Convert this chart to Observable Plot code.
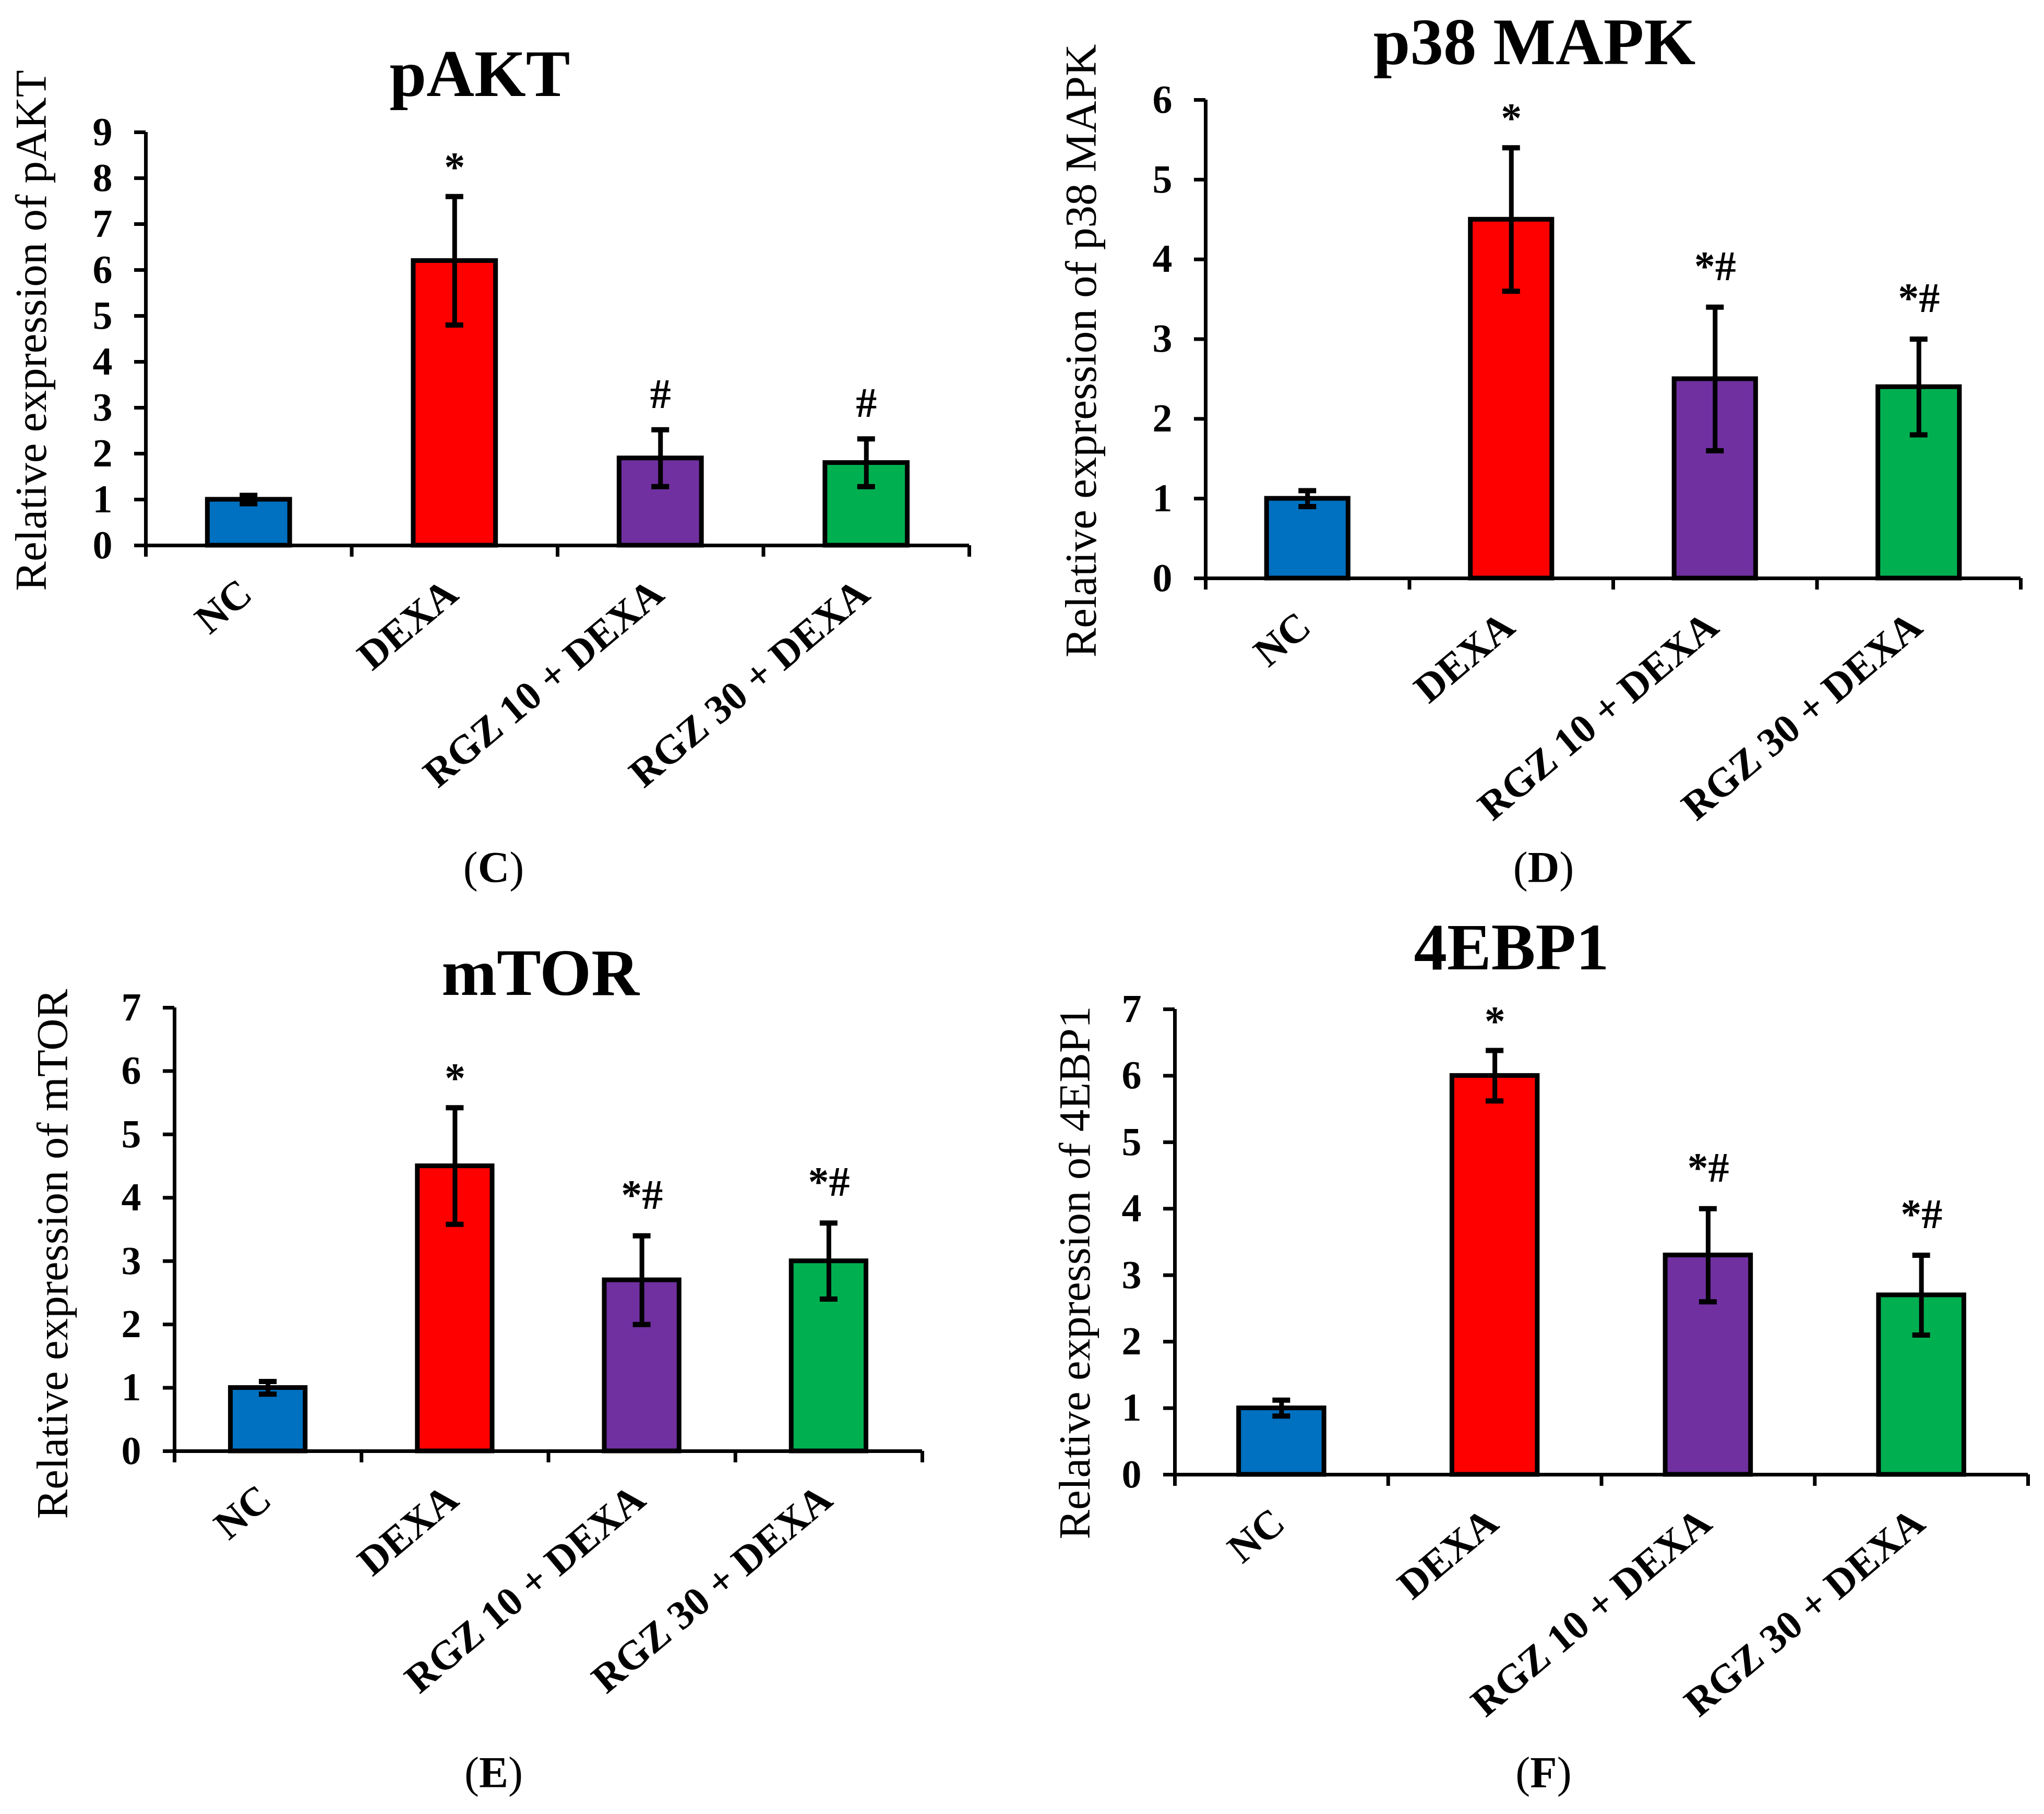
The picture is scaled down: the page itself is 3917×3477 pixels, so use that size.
<!DOCTYPE html>
<html><head><meta charset="utf-8">
<script src="https://cdn.jsdelivr.net/npm/d3@7"></script>
<script src="https://cdn.jsdelivr.net/npm/@observablehq/plot@0.6"></script>
<style>
html,body{margin:0;padding:0;background:#fff;}
#page{position:relative;width:3917px;height:3477px;background:#fff;overflow:hidden;font-family:"Liberation Serif","Times New Roman",serif;}
.panel{position:absolute;}
.panel svg{overflow:visible;display:block;}
.cap{position:absolute;font-size:84px;line-height:84px;white-space:nowrap;transform:translateX(-50%);color:#000;font-family:"Liberation Serif",serif;}
</style></head><body><div id="page"></div>
<script>
// ---- data ----
const categories = ["NC", "DEXA", "RGZ 10 + DEXA", "RGZ 30 + DEXA"];
const palette = ["#0070C0", "#FF0000", "#7030A0", "#00B050"];

const pAKTValues = [1.0, 6.2, 1.9, 1.8];
const pAKTErrors = [0.09, 1.4, 0.62, 0.52];
const pAKTSig = ["", "*", "#", "#"];
const pAKTTicks = [0, 1, 2, 3, 4, 5, 6, 7, 8, 9];

const p38Values = [1.0, 4.5, 2.5, 2.4];
const p38Errors = [0.1, 0.9, 0.9, 0.6];
const p38Sig = ["", "*", "*#", "*#"];
const p38Ticks = [0, 1, 2, 3, 4, 5, 6];

const mTORValues = [1.0, 4.5, 2.7, 3.0];
const mTORErrors = [0.1, 0.92, 0.7, 0.6];
const mTORSig = ["", "*", "*#", "*#"];
const mTORTicks = [0, 1, 2, 3, 4, 5, 6, 7];

const ebpValues = [1.0, 6.0, 3.3, 2.7];
const ebpErrors = [0.12, 0.38, 0.7, 0.6];
const ebpSig = ["", "*", "*#", "*#"];
const ebpTicks = [0, 1, 2, 3, 4, 5, 6, 7];

// ---- layout (pixels) ----
const panels = [
  {title: "pAKT", yLabel: "Relative expression of pAKT", letter: "C",
   values: pAKTValues, errors: pAKTErrors, sig: pAKTSig, ticks: pAKTTicks,
   box: {left: 0, top: 0, width: 1958, height: 1738},
   frame: {x1: 279, x2: 1857, y1: 253, y2: 1045},
   titleAt: [919, 183], yLabelAt: [60, 633], capAt: [946, 1621]},
  {title: "p38 MAPK", yLabel: "Relative expression of p38 MAPK", letter: "D",
   values: p38Values, errors: p38Errors, sig: p38Sig, ticks: p38Ticks,
   box: {left: 1958, top: 0, width: 1959, height: 1738},
   frame: {x1: 2310, x2: 3872, y1: 191, y2: 1108},
   titleAt: [2940, 122], yLabelAt: [2072, 672], capAt: [2958, 1621]},
  {title: "mTOR", yLabel: "Relative expression of mTOR", letter: "E",
   values: mTORValues, errors: mTORErrors, sig: mTORSig, ticks: mTORTicks,
   box: {left: 0, top: 1738, width: 1958, height: 1739},
   frame: {x1: 334, x2: 1767, y1: 1931, y2: 2781},
   titleAt: [1035, 1906], yLabelAt: [101, 2403], capAt: [946, 3356]},
  {title: "4EBP1", yLabel: "Relative expression of 4EBP1", letter: "F",
   values: ebpValues, errors: ebpErrors, sig: ebpSig, ticks: ebpTicks,
   box: {left: 1958, top: 1738, width: 1959, height: 1739},
   frame: {x1: 2251, x2: 3886, y1: 1934, y2: 2826},
   titleAt: [2896, 1857], yLabelAt: [2060, 2439], capAt: [2958, 3356]}
];

// vertical gap between the error-bar cap and each kind of significance label
const sigGap = {"*": -30, "#": -42, "*#": -52};

const page = document.getElementById("page");
const serif = "'Liberation Serif', 'Times New Roman', serif";

for (const p of panels) {
  const data = categories.map((g, i) => ({group: g, value: p.values[i], err: p.errors[i], sig: p.sig[i]}));
  const yMax = p.ticks[p.ticks.length - 1];
  const mL = p.frame.x1 - p.box.left;
  const mR = p.box.left + p.box.width - p.frame.x2;
  const mT = p.frame.y1 - p.box.top;
  const mB = p.box.top + p.box.height - p.frame.y2;
  const plotW = p.frame.x2 - p.frame.x1;
  const plotH = p.frame.y2 - p.frame.y1;
  const step = plotW / categories.length;
  const bandW = step * 0.4;
  const capW = 34;
  const tickLen = 22;
  const tickUnits = tickLen * yMax / plotH;
  const lineW = 7;

  const sigMarks = Object.keys(sigGap).map(kind =>
    Plot.text(data.filter(d => d.sig === kind), {x: "group", y: d => d.value + d.err, text: "sig",
      dy: sigGap[kind], lineAnchor: "bottom", fontSize: 80, fontWeight: "bold", fill: "#000"}));

  const chart = Plot.plot({
    width: p.box.width, height: p.box.height,
    marginLeft: mL, marginRight: mR, marginTop: mT, marginBottom: mB,
    style: {fontFamily: serif, background: "transparent", overflow: "visible", color: "#000"},
    x: {domain: categories, paddingInner: 0.6, paddingOuter: 0.3, round: false, axis: null},
    y: {domain: [0, yMax], axis: null},
    color: {domain: categories, range: palette},
    marks: [
      Plot.barY(data, {x: "group", y: "value", fill: "group", stroke: "#000", strokeWidth: 9, ariaLabel: "bars"}),
      Plot.ruleX(data, {x: "group", y1: d => d.value - d.err, y2: d => d.value + d.err, stroke: "#000", strokeWidth: 9}),
      Plot.tickY(data, {x: "group", y: d => d.value + d.err, stroke: "#000", strokeWidth: 10, inset: (bandW - capW) / 2}),
      Plot.tickY(data, {x: "group", y: d => d.value - d.err, stroke: "#000", strokeWidth: 10, inset: (bandW - capW) / 2}),
      ...sigMarks,
      Plot.ruleY([0], {stroke: "#000", strokeWidth: lineW}),
      Plot.ruleX(categories.slice(0, 1), {x: d => d, dx: -step / 2, y1: 0, y2: yMax, stroke: "#000", strokeWidth: lineW}),
      Plot.ruleX(categories, {x: d => d, dx: -step / 2, y1: 0, y2: -tickUnits, stroke: "#000", strokeWidth: lineW}),
      Plot.ruleX(categories.slice(-1), {x: d => d, dx: step / 2, y1: 0, y2: -tickUnits, stroke: "#000", strokeWidth: lineW}),
      Plot.axisY({ticks: p.ticks, tickSize: tickLen, tickPadding: 42, tickFormat: d => String(d),
        fontSize: 76, fontWeight: "bold", strokeWidth: lineW, stroke: "#000", fill: "#000", label: null}),
      Plot.text(categories, {x: d => d, y: () => 0, text: d => d, rotate: -40, textAnchor: "end", lineAnchor: "bottom",
        dx: 11, dy: 100, fontSize: 78, fontWeight: "bold", fill: "#000"}),
      Plot.text([p.title], {frameAnchor: "top", text: d => d,
        dx: p.titleAt[0] - (p.frame.x1 + p.frame.x2) / 2, dy: p.titleAt[1] - p.frame.y1,
        lineAnchor: "bottom", textAnchor: "middle", fontSize: 127, fontWeight: "bold", fill: "#000"}),
      Plot.text([p.yLabel], {frameAnchor: "left", text: d => d, rotate: -90,
        dx: p.yLabelAt[0] - p.frame.x1, dy: p.yLabelAt[1] - (p.frame.y1 + p.frame.y2) / 2,
        textAnchor: "middle", lineAnchor: "middle", fontSize: 85, fontWeight: "normal", fill: "#000"})
    ]
  });

  // soft drop shadow under the bars, as in the original spreadsheet chart
  const ns = "http://www.w3.org/2000/svg";
  const fid = "shadow" + p.letter;
  const defs = document.createElementNS(ns, "defs");
  defs.innerHTML = `<filter id="${fid}" x="-20%" y="-20%" width="140%" height="140%">
    <feDropShadow dx="4" dy="2" stdDeviation="7" flood-color="#000" flood-opacity="0.28"/></filter>`;
  chart.insertBefore(defs, chart.firstChild);
  const barGroup = chart.querySelector('g[aria-label="bars"]');
  if (barGroup) barGroup.setAttribute("filter", `url(#${fid})`);

  const holder = document.createElement("div");
  holder.className = "panel";
  holder.style.left = p.box.left + "px";
  holder.style.top = p.box.top + "px";
  holder.appendChild(chart);
  page.appendChild(holder);

  const cap = document.createElement("div");
  cap.className = "cap";
  cap.style.left = p.capAt[0] + "px";
  cap.style.top = p.capAt[1] + "px";
  cap.innerHTML = "(<b>" + p.letter + "</b>)";
  page.appendChild(cap);
}
</script></body></html>
